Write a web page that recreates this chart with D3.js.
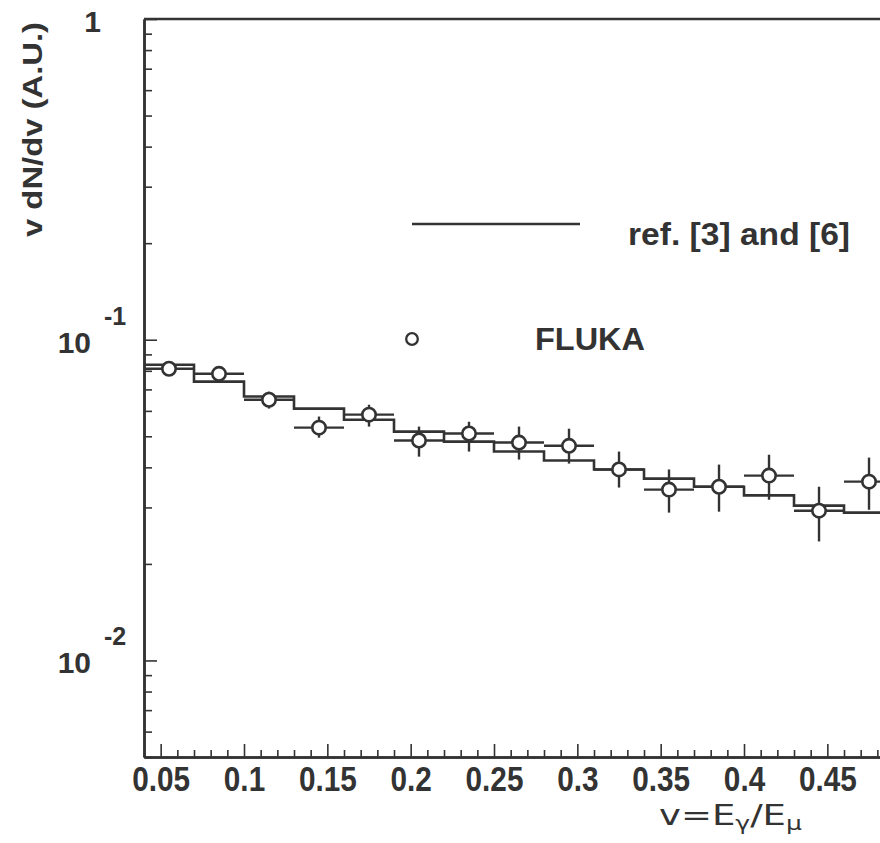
<!DOCTYPE html>
<html>
<head>
<meta charset="utf-8">
<script src="https://cdn.jsdelivr.net/npm/d3@7/dist/d3.min.js"></script>
<style>
  html, body { margin: 0; padding: 0; background: #fff; }
  svg { display: block; }
</style>
</head>
<body>
<svg id="chart" width="880" height="843"></svg>
<script>
// ---------------- data ----------------
const binEdges = [0.04, 0.07, 0.10, 0.13, 0.16, 0.19, 0.22, 0.25, 0.28, 0.31, 0.34, 0.37, 0.40, 0.43, 0.46, 0.49];
const refValues = [0.0836, 0.0740, 0.0665, 0.0610, 0.0563, 0.0517, 0.0481, 0.0448, 0.0420, 0.0394, 0.0369, 0.0348, 0.0327, 0.0304, 0.0289];
const flukaValues = [0.0812, 0.0783, 0.0650, 0.0532, 0.0584, 0.0485, 0.0510, 0.0478, 0.0467, 0.0394, 0.0341, 0.0348, 0.0377, 0.0293, 0.0361];
const flukaLow  = [0.0789, 0.0761, 0.0610, 0.0495, 0.0536, 0.0432, 0.0448, 0.0423, 0.0411, 0.0346, 0.0289, 0.0291, 0.0317, 0.0235, 0.0295];
const flukaHigh = [0.0836, 0.0806, 0.0689, 0.0576, 0.0627, 0.0536, 0.0555, 0.0536, 0.0528, 0.0448, 0.0394, 0.0408, 0.0438, 0.0348, 0.0429];
const xTickValues = [0.05, 0.1, 0.15, 0.2, 0.25, 0.3, 0.35, 0.4, 0.45];
const xTickLabels = ["0.05", "0.1", "0.15", "0.2", "0.25", "0.3", "0.35", "0.4", "0.45"];
const yMajorTicks = [1, 0.1, 0.01];
const yTickExponents = ["", "-1", "-2"];
const legendRefLabel = "ref. [3] and [6]";
const legendFlukaLabel = "FLUKA";
const yTitle = "v dN/dv (A.U.)";

(function () {
// ---------------- layout ----------------
const INK = "#333";
const svg = d3.select("#chart");
const pLeft = 144, pTop = 19, pBottom = 757;
const pxPerUnit = 1666.7;
const xMax = 0.5;
const x = d3.scaleLinear().domain([0.04, xMax]).range([pLeft, pLeft + (xMax - 0.04) * pxPerUnit]);
const y = d3.scaleLog().domain([0.005, 1]).range([pBottom, pTop]);

function condense(sel, factor) {
  sel.each(function () {
    const w = this.getComputedTextLength();
    d3.select(this).attr("textLength", w * factor).attr("lengthAdjust", "spacingAndGlyphs");
  });
}

// ---------------- axes ----------------
const xMinor = d3.range(4, 50).map(d => d / 100).filter(d => Math.abs(d * 20 - Math.round(d * 20)) > 1e-6);
const gxMinor = svg.append("g").attr("transform", `translate(0,${pBottom})`)
  .call(d3.axisBottom(x).tickValues(xMinor).tickSize(-7).tickSizeOuter(0).tickFormat(""));
const gx = svg.append("g").attr("transform", `translate(0,${pBottom})`)
  .call(d3.axisBottom(x).tickValues(xTickValues).tickSize(-13).tickSizeOuter(0).tickPadding(9)
    .tickFormat((d, i) => xTickLabels[i]));
[gxMinor, gx].forEach(g => {
  g.select(".domain").attr("stroke", INK).attr("stroke-width", 2.5);
  g.selectAll(".tick line").attr("stroke", INK).attr("stroke-width", 1.6);
});
gx.selectAll(".tick text")
  .attr("fill", INK)
  .style("font-family", "'Liberation Sans', Arial, sans-serif")
  .style("font-weight", "bold")
  .style("font-size", "35px");
condense(gx.selectAll(".tick text"), 0.85);

const yMinor = [];
[0.001, 0.01, 0.1].forEach(dec => { for (let k = 2; k <= 9; k++) { const v = dec * k; if (v >= 0.005 && v < 1) yMinor.push(v); } });
const gyMinor = svg.append("g").attr("transform", `translate(${pLeft},0)`)
  .call(d3.axisLeft(y).tickValues(yMinor).tickSize(-8).tickSizeOuter(0).tickFormat(""));
const gy = svg.append("g").attr("transform", `translate(${pLeft},0)`)
  .call(d3.axisLeft(y).tickValues(yMajorTicks).tickSize(-13).tickSizeOuter(0).tickFormat(""));
[gyMinor, gy].forEach(g => {
  g.select(".domain").attr("stroke", INK).attr("stroke-width", 2.5);
  g.selectAll(".tick line").attr("stroke", INK).attr("stroke-width", 1.6);
});

// top frame line
svg.append("line").attr("x1", pLeft).attr("x2", x(xMax)).attr("y1", pTop).attr("y2", pTop)
  .attr("stroke", INK).attr("stroke-width", 2.5);

// y tick labels
const yLab = svg.append("g")
  .style("font-family", "'Liberation Sans', Arial, sans-serif")
  .style("font-weight", "bold").attr("fill", INK);
yMajorTicks.forEach((v, i) => {
  if (yTickExponents[i] === "") {
    yLab.append("text").attr("x", 101).attr("y", y(v) + 13).attr("text-anchor", "end")
      .style("font-size", "30px").text("1");
  } else {
    yLab.append("text").attr("x", 91).attr("y", y(v) + 13).attr("text-anchor", "end")
      .style("font-size", "30px").text("10");
    yLab.append("text").attr("x", 104).attr("y", y(v) - 15).attr("text-anchor", "start")
      .style("font-size", "25px").text(yTickExponents[i]);
  }
});

// y title
svg.append("text")
  .attr("transform", "translate(42,129.5) rotate(-90)")
  .attr("text-anchor", "middle")
  .attr("fill", INK)
  .style("font-family", "'Liberation Sans', Arial, sans-serif")
  .style("font-weight", "bold").style("font-size", "28px")
  .attr("textLength", 215).attr("lengthAdjust", "spacingAndGlyphs")
  .text(yTitle);

// x title
const xt = svg.append("text")
  .attr("x", 659).attr("y", 825)
  .attr("fill", INK)
  .style("font-family", "'DejaVu Sans', sans-serif")
  .style("font-weight", "normal").style("font-size", "28px")
  .attr("textLength", 143).attr("lengthAdjust", "spacingAndGlyphs");
xt.append("tspan").text("v=E");
xt.append("tspan").attr("dy", 5).style("font-size", "19px").text("γ");
xt.append("tspan").attr("dy", -5).text("/E");
xt.append("tspan").attr("dy", 5).style("font-size", "19px").text("μ");

// ---------------- data marks ----------------
const plot = svg.append("g");
// reference histogram (step line)
const stepPts = [];
refValues.forEach((v, i) => { stepPts.push([binEdges[i], v]); stepPts.push([binEdges[i + 1], v]); });
plot.append("path")
  .datum(stepPts)
  .attr("fill", "none").attr("stroke", INK).attr("stroke-width", 2.6)
  .attr("d", d3.line().x(d => x(d[0])).y(d => y(d[1])));

// FLUKA points with error bars
const fl = flukaValues.map((v, i) => ({
  x0: binEdges[i], x1: binEdges[i + 1], xc: (binEdges[i] + binEdges[i + 1]) / 2,
  v, lo: flukaLow[i], hi: flukaHigh[i]
}));
const pts = plot.selectAll("g.pt").data(fl).join("g").attr("class", "pt");
pts.append("line").attr("x1", d => x(d.x0)).attr("x2", d => x(d.x1))
  .attr("y1", d => y(d.v)).attr("y2", d => y(d.v))
  .attr("stroke", INK).attr("stroke-width", 2.4);
pts.append("line").attr("x1", d => x(d.xc)).attr("x2", d => x(d.xc))
  .attr("y1", d => y(d.lo)).attr("y2", d => y(d.hi))
  .attr("stroke", INK).attr("stroke-width", 2.4);
pts.append("circle").attr("cx", d => x(d.xc)).attr("cy", d => y(d.v)).attr("r", 6.7)
  .attr("fill", "#fff").attr("stroke", INK).attr("stroke-width", 2.6);

// ---------------- legend ----------------
const lg = svg.append("g").attr("fill", INK)
  .style("font-family", "'Liberation Sans', Arial, sans-serif").style("font-weight", "bold");
lg.append("line").attr("x1", 412).attr("x2", 580).attr("y1", 224).attr("y2", 224)
  .attr("stroke", INK).attr("stroke-width", 2.4);
lg.append("text").attr("x", 628).attr("y", 245).style("font-size", "32px")
  .attr("textLength", 222).attr("lengthAdjust", "spacingAndGlyphs").text(legendRefLabel);
lg.append("circle").attr("cx", 412).attr("cy", 339).attr("r", 5.8)
  .attr("fill", "#fff").attr("stroke", INK).attr("stroke-width", 2.3);
lg.append("text").attr("x", 535).attr("y", 350).style("font-size", "31px")
  .attr("textLength", 110).attr("lengthAdjust", "spacingAndGlyphs").text(legendFlukaLabel);
})();
</script>
</body>
</html>
